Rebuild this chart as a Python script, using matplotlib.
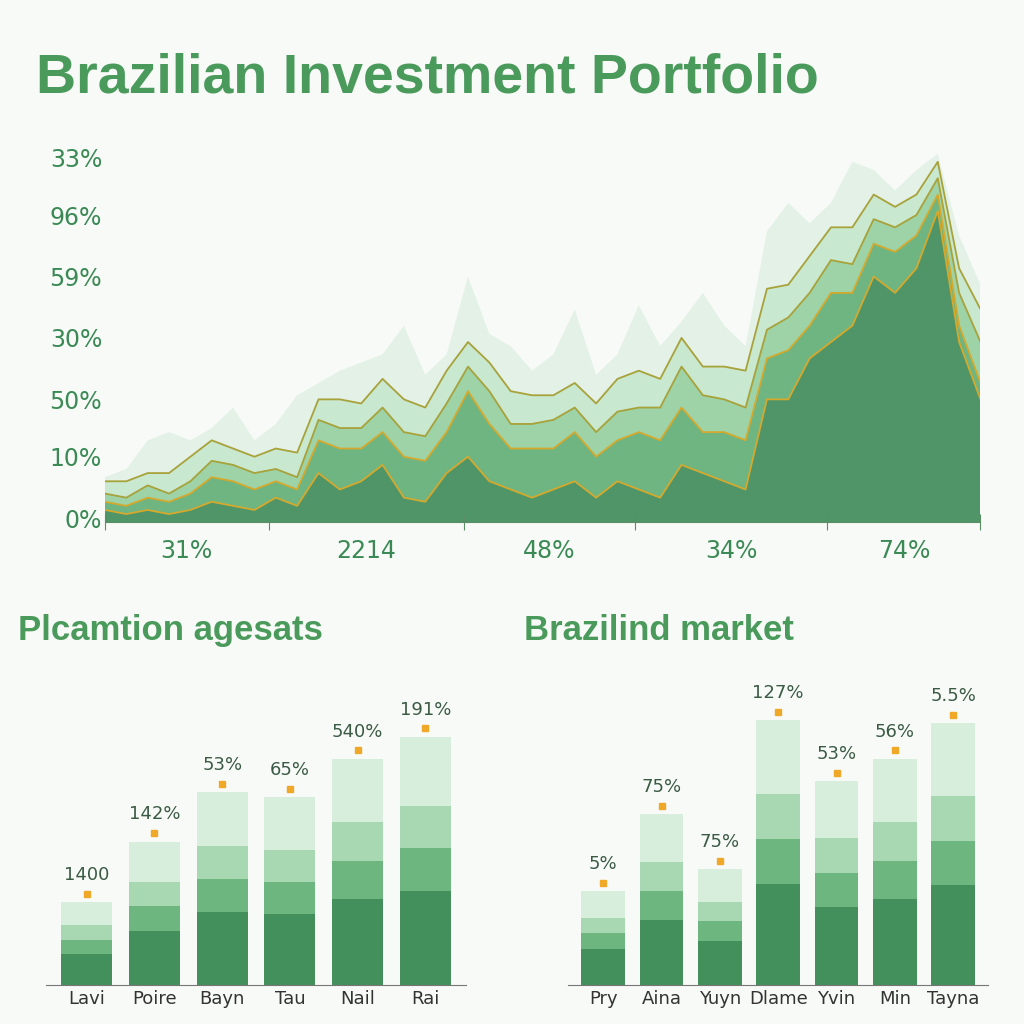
import matplotlib
matplotlib.use("Agg")
import matplotlib.pyplot as plt
import numpy as np

# ---- data ----
top_x_labels = ["31%", "2214", "48%", "34%", "74%"]
top_y_labels = ["0%", "10%", "50%", "30%", "59%", "96%", "33%"]
top_dark = [3, 2, 3, 2, 3, 5, 4, 3, 6, 4, 12, 8, 10, 14, 6, 5, 12, 16, 10, 8, 6, 8, 10, 6, 10, 8, 6, 14, 12, 10, 8, 30, 30, 40, 44, 48, 60, 56, 62, 76, 44, 30]
top_mid = [2, 2, 3, 3, 4, 6, 6, 5, 4, 4, 8, 10, 8, 8, 10, 10, 10, 16, 14, 10, 12, 10, 12, 10, 10, 14, 14, 14, 10, 12, 12, 10, 12, 8, 12, 8, 8, 10, 8, 4, 4, 4]
top_light = [2, 2, 3, 2, 3, 4, 4, 4, 3, 3, 5, 5, 5, 6, 6, 6, 7, 6, 8, 6, 6, 7, 6, 6, 7, 6, 8, 10, 9, 8, 8, 7, 8, 8, 8, 7, 6, 6, 5, 4, 8, 10]
top_pale = [3, 4, 3, 5, 6, 5, 4, 4, 5, 6, 5, 7, 6, 7, 8, 7, 8, 6, 7, 8, 7, 6, 6, 7, 8, 9, 7, 7, 7, 8, 9, 10, 8, 9, 8, 9, 6, 5, 5, 4, 6, 8]
top_ghost = [1, 3, 8, 10, 4, 3, 10, 4, 6, 14, 4, 7, 10, 6, 18, 8, 4, 16, 7, 11, 6, 10, 18, 7, 6, 16, 8, 4, 18, 10, 6, 14, 20, 8, 6, 16, 6, 4, 6, 2, 8, 6]

bl_cats = ["Lavi", "Poire", "Bayn", "Tau", "Nail", "Rai"]
bl_labels = ["1400", "142%", "53%", "65%", "540%", "191%"]
bl_tops = [30, 52, 70, 68, 82, 90]
br_cats = ["Pry", "Aina", "Yuyn", "Dlame", "Yvin", "Min", "Tayna"]
br_labels = ["5%", "75%", "75%", "127%", "53%", "56%", "5.5%"]
br_tops = [34, 62, 42, 96, 74, 82, 95]

dark = "#3d8a57"; mid = "#5fae74"; light = "#93cf9f"; pale = "#c4e6cc"; ghost = "#e1f1e6"
edge = "#d4a92e"; tc = "#3b8a56"

fig = plt.figure(figsize=(10.24, 10.24), dpi=100)
fig.patch.set_facecolor("#f8faf7")
fig.text(0.035, 0.91, "Brazilian Investment Portfolio", fontsize=40, fontweight="bold",
         color="#4a9a5c", family="Liberation Sans")

# ---- top chart ----
ax = fig.add_axes([0.1025, 0.49, 0.855, 0.40])
ax.set_facecolor("none")
x = np.arange(len(top_dark))
ys = [top_dark, top_mid, top_light, top_pale, top_ghost]
cols = [dark, mid, light, pale, ghost]
ax.stackplot(x, *ys, colors=cols, alpha=0.9)
cum = np.cumsum(np.array(ys), axis=0)
for i, c in enumerate(cum[:4]):
    ax.plot(x, c, color=edge if i < 2 else "#a8a23a", lw=1.3)
n = len(x) - 1
ax.set_xlim(0, n)
ax.set_ylim(0, 100)
ax.set_yticks([1, 16, 30, 45, 60, 75, 89])
ax.set_yticklabels(top_y_labels, fontsize=17, color=tc)
bounds = [0, 0.187, 0.41, 0.605, 0.825, 1.0]
ax.set_xticks([b * n for b in bounds])
ax.set_xticklabels([""] * len(bounds))
mids = [(bounds[i] + bounds[i + 1]) / 2 * n for i in range(5)]
ax.set_xticks(mids, minor=True)
ax.set_xticklabels(top_x_labels, minor=True, fontsize=17, color=tc)
for s in ["top", "right", "left"]:
    ax.spines[s].set_visible(False)
ax.spines["bottom"].set_color("#5a8f66")
ax.tick_params(axis="y", length=0, pad=2)
ax.tick_params(axis="x", which="major", length=12, direction="inout", color="#5a8f66")
ax.tick_params(axis="x", which="minor", length=0, pad=12)

def panel(rect, title, tx, cats, labels, tops):
    fig.text(tx, 0.375, title, fontsize=25, fontweight="bold", color="#4a9a5c", family="Liberation Sans")
    a = fig.add_axes(rect)
    a.set_facecolor("none")
    k = len(cats)
    xi = np.arange(k)
    tops = np.array(tops, float)
    a.bar(xi, tops, width=0.75, color=pale, alpha=0.6)
    a.bar(xi, tops * 0.72, width=0.75, color=light, alpha=0.7)
    a.bar(xi, tops * 0.55, width=0.75, color=mid, alpha=0.8)
    a.bar(xi, tops * 0.38, width=0.75, color=dark, alpha=0.85)
    for xv, tv, lb in zip(xi, tops, labels):
        a.plot(xv, tv + 3, "s", color="#f0a828", ms=4)
        a.text(xv, tv + 8, lb, ha="center", fontsize=13, color="#3a5a44")
    a.set_xlim(-0.6, k - 0.4)
    a.set_ylim(0, 115)
    a.set_xticks(xi)
    a.set_xticklabels(cats, fontsize=13, color="#333")
    a.set_yticks([])
    for s in ["top", "right", "left"]:
        a.spines[s].set_visible(False)
    a.spines["bottom"].set_color("#777")
    a.tick_params(axis="x", length=0)

panel([0.045, 0.038, 0.41, 0.31], "Plcamtion agesats", 0.018, bl_cats, bl_labels, bl_tops)
panel([0.555, 0.038, 0.41, 0.31], "Brazilind market", 0.512, br_cats, br_labels, br_tops)

fig.savefig("out.png", dpi=100, facecolor=fig.get_facecolor())
